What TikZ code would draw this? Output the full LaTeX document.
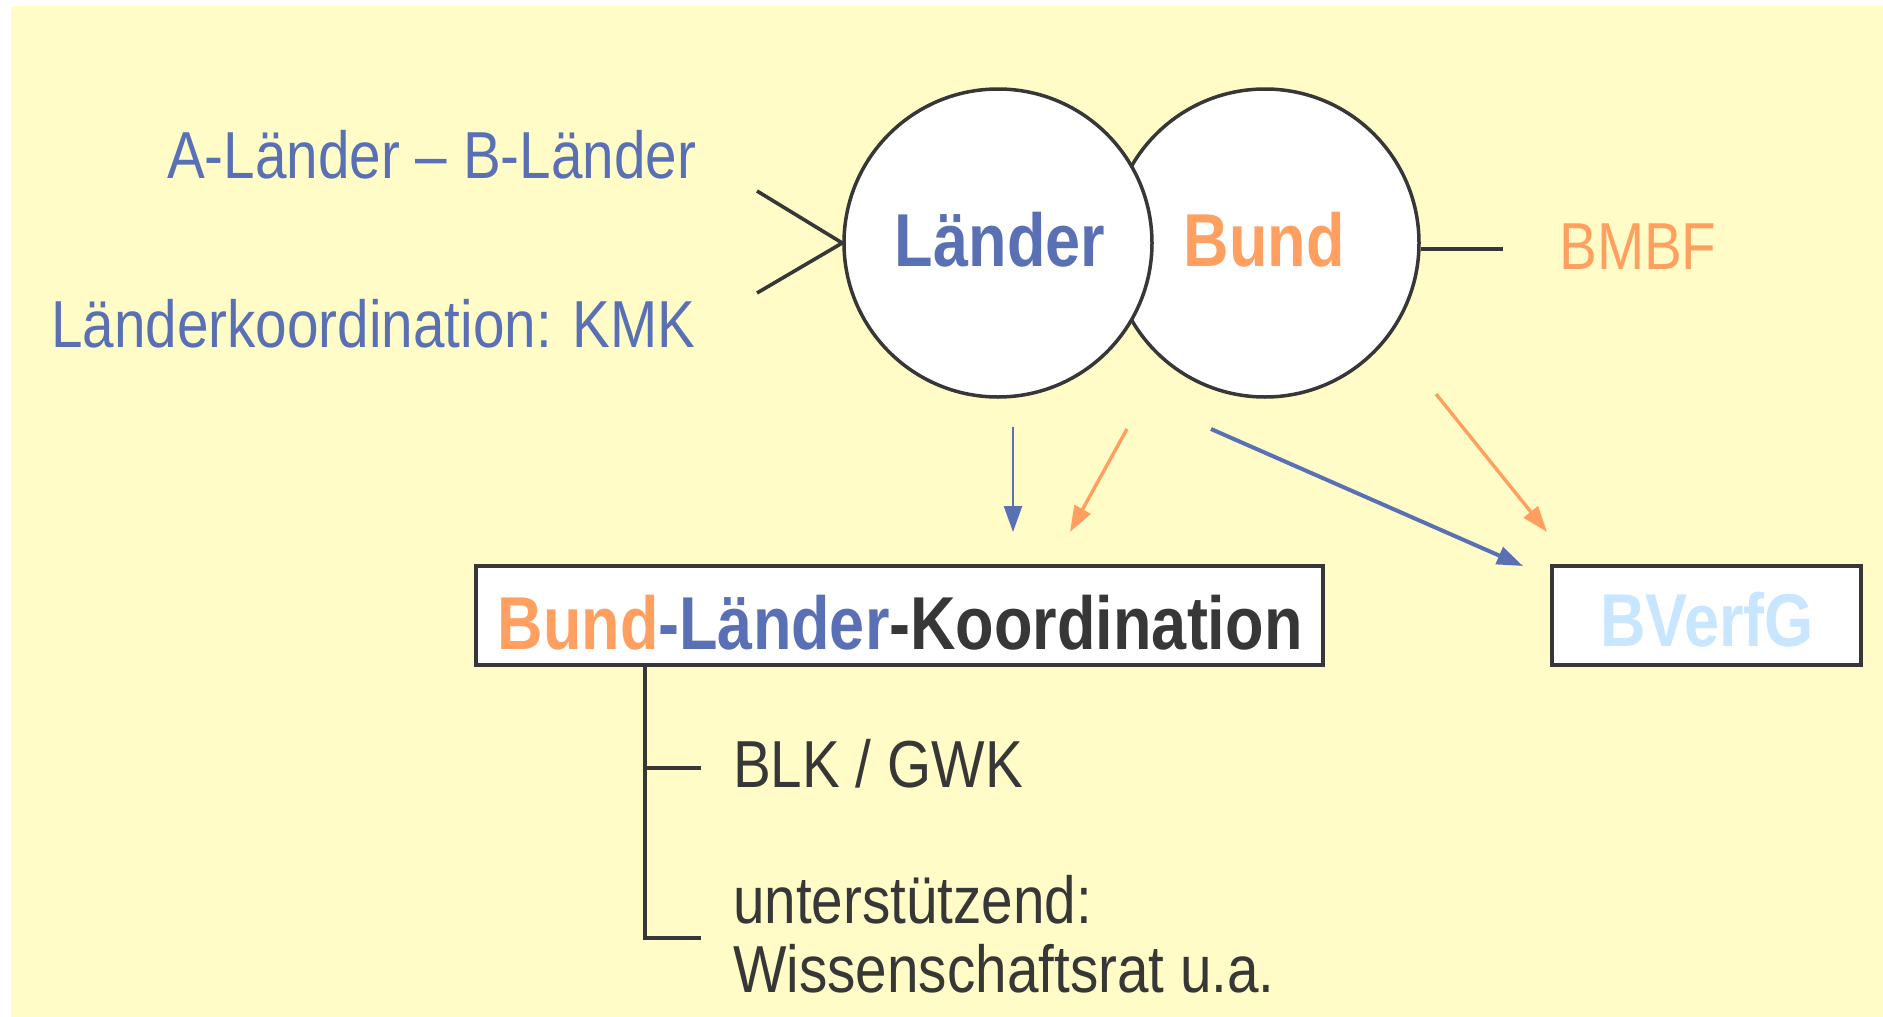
\documentclass[tikz,border=0pt]{standalone}
\usepackage{fontspec}
\setmainfont[FakeStretch=0.84]{Liberation Sans}
\newfontfamily\regfont[FakeStretch=0.852]{Liberation Sans}
\usetikzlibrary{arrows.meta}
\definecolor{bg}{RGB}{255,252,200}
\definecolor{lblue}{RGB}{90,112,180}
\definecolor{orng}{RGB}{255,160,96}
\definecolor{pblue}{RGB}{200,230,255}
\definecolor{dgray}{RGB}{55,55,55}
\begin{document}
\begin{tikzpicture}[x=1pt,y=-1pt,
  reg/.style={inner sep=0pt, anchor=base west, font=\regfont\fontsize{66.5}{69}\selectfont},
  bld/.style={inner sep=0pt, anchor=base, font=\fontsize{75}{80}\selectfont\bfseries},
  ring/.style={circle, draw=dgray, line width=3.5pt, fill=white, minimum size=308pt, inner sep=0pt},
  frame/.style={draw=dgray, line width=4.5pt, fill=white, inner sep=0pt},
  link/.style={draw=dgray, line width=3.6pt},
  arr/.style={-{Triangle[length=26pt,width=18pt]}}]
\useasboundingbox (0,0) rectangle (1883,1017);
\fill[bg] (11,6) rectangle (1883,1017);

% circles
\node[ring] (bund) at (1265,243) {};
\node[ring] (laender) at (998,243) {};
\node[bld, text=lblue] (tl) at (1000,266) {Länder};
\node[bld, text=orng] (tb) at (1264,266) {Bund};

% left texts
\node[reg, text=lblue] (ab) at (167,178) {A-Länder – B-Länder};
\node[reg, text=lblue] (kmk) at (51,347) {Länderkoordination: KMK};
\coordinate (c1) at (757,191);
\coordinate (c2) at (757,293);
\draw[link] (c1) -- (laender.west) -- (c2);

% BMBF
\node[reg, text=orng] (bmbf) at (1559,269) {BMBF};
\coordinate (bm) at (1503,249);
\draw[link] (bund.east |- bm) -- (bm);

% boxes
\node[frame, minimum width=847pt, minimum height=99pt] (blk) at (899.5,615.5) {};
\node[bld] (blkt) at (900,649) {\textcolor{orng}{Bund}\textcolor{lblue}{-Länder}\textcolor{dgray}{-Koordination}};
\node[frame, minimum width=309pt, minimum height=99pt] (bverf) at (1706.5,615.5) {};
\node[bld, text=pblue] (bverft) at (1707,646) {BVerfG};

% arrows
\coordinate (a1s) at (1013,427);
\coordinate (a1e) at (1013,532);
\coordinate (a2s) at (1127,429);
\coordinate (a2e) at (1070,532);
\coordinate (a3s) at (1211,429);
\coordinate (a3e) at (1523,566);
\coordinate (a4s) at (1436,394);
\coordinate (a4e) at (1547,532);
\draw[arr, lblue, line width=2.4pt] (a1s) -- (a1e);
\draw[arr, orng, line width=3.4pt] (a2s) -- (a2e);
\draw[arr, lblue, line width=4pt] (a3s) -- (a3e);
\draw[arr, orng, line width=3.4pt] (a4s) -- (a4e);

% tree
\coordinate (t0) at (645,667);
\coordinate (t1) at (701,768);
\coordinate (t2) at (701,938);
\draw[link, line width=3.4pt] (t0) |- (t2);
\draw[link, line width=3.4pt] (t0 |- t1) -- (t1);
\node[reg, text=dgray] (gwk) at (733,787) {BLK / GWK};
\node[reg, text=dgray] (unt) at (733,923) {unterstützend:};
\node[reg, text=dgray] (wr) at (733,992) {Wissenschaftsrat u.a.};
\end{tikzpicture}
\end{document}
